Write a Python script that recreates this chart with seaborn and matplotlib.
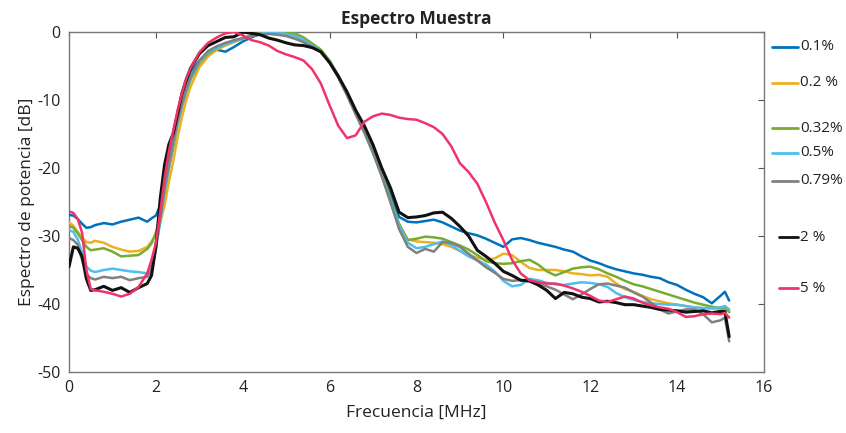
import numpy as np
import pandas as pd
import matplotlib
matplotlib.use("Agg")
import matplotlib.pyplot as plt
from matplotlib.lines import Line2D
import seaborn as sns

# ------------------------
# DATA
# ------------------------
FREQ = [0.0, 0.1, 0.2, 0.3, 0.4, 0.5, 0.6, 0.8, 1.0, 1.2,
        1.4, 1.6, 1.8, 1.9, 2.0, 2.1, 2.2, 2.3, 2.4, 2.5,
        2.6, 2.7, 2.8, 3.0, 3.2, 3.4, 3.6, 3.8, 4.0, 4.2,
        4.4, 4.6, 4.8, 5.0, 5.2, 5.4, 5.6, 5.8, 6.0, 6.2,
        6.4, 6.6, 6.8, 7.0, 7.2, 7.4, 7.6, 7.8, 8.0, 8.2,
        8.4, 8.6, 8.8, 9.0, 9.2, 9.4, 9.6, 9.8, 10.0, 10.2,
        10.4, 10.6, 10.8, 11.0, 11.2, 11.4, 11.6, 11.8, 12.0, 12.2,
        12.4, 12.6, 12.8, 13.0, 13.2, 13.4, 13.6, 13.8, 14.0, 14.2,
        14.4, 14.6, 14.8, 15.0, 15.1, 15.2]

DB_01 = [-26.9, -27.0, -27.5, -28.2, -28.8, -28.7, -28.4, -28.1, -28.3, -27.9,
         -27.6, -27.3, -27.9, -27.4, -27.0, -25.5, -21.5, -18.0, -15.0, -12.0,
         -9.5, -7.5, -5.8, -4.2, -3.2, -2.6, -2.9, -2.2, -1.4, -0.8,
         -0.3, -0.1, 0.0, -0.2, -0.6, -1.3, -2.2, -2.8, -4.4, -6.6,
         -9.0, -11.8, -14.3, -17.2, -20.5, -24.0, -27.2, -27.9, -28.0, -27.8,
         -27.6, -28.0, -28.6, -29.2, -29.6, -29.9, -30.4, -31.0, -31.6, -30.5,
         -30.3, -30.6, -31.0, -31.3, -31.6, -32.0, -32.3, -33.0, -33.6, -34.0,
         -34.5, -34.9, -35.2, -35.5, -35.7, -36.0, -36.2, -36.8, -37.2, -37.9,
         -38.5, -39.0, -39.9, -38.8, -38.2, -39.5]

DB_02 = [-28.0, -28.5, -29.4, -30.2, -30.9, -31.0, -30.7, -31.0, -31.6, -32.0,
         -32.3, -32.2, -31.6, -30.8, -29.8, -28.0, -25.5, -22.0, -19.0, -15.5,
         -12.5, -10.0, -8.0, -5.2, -3.6, -2.6, -2.0, -1.5, -1.0, -0.6,
         -0.3, -0.2, -0.3, -0.5, -0.9, -1.5, -2.2, -3.0, -4.5, -6.7,
         -9.2, -12.0, -14.6, -17.5, -21.0, -25.0, -28.5, -30.5, -30.8, -30.9,
         -31.0, -31.2, -31.6, -32.2, -32.8, -33.2, -33.5, -33.3, -32.6, -32.8,
         -33.8, -34.7, -35.0, -35.0, -35.0, -35.2, -35.5, -35.6, -35.8, -35.7,
         -36.0, -37.0, -37.8, -38.2, -38.8, -39.3, -39.6, -39.9, -40.1, -40.3,
         -40.5, -40.6, -40.7, -40.8, -40.6, -41.0]

DB_032 = [-28.5, -28.8, -29.6, -30.6, -31.6, -32.1, -32.0, -31.8, -32.3, -33.0,
          -32.9, -32.8, -31.9, -31.1, -29.5, -27.0, -23.5, -20.0, -17.0, -13.5,
          -11.0, -8.8, -7.0, -4.6, -3.2, -2.4, -1.8, -1.3, -0.9, -0.5,
          -0.2, 0.0, 0.0, 0.0, -0.2, -0.8, -1.7, -2.6, -4.2, -6.4,
          -9.0, -11.8, -14.5, -17.4, -20.8, -24.5, -28.2, -30.6, -30.4, -30.1,
          -30.2, -30.4, -30.9, -31.4, -32.0, -32.8, -33.7, -34.0, -34.1, -34.0,
          -33.7, -33.5, -34.2, -35.2, -35.8, -35.3, -34.8, -34.6, -34.5, -34.9,
          -35.5, -36.0, -36.6, -37.1, -37.4, -37.8, -38.2, -38.6, -39.0, -39.4,
          -39.8, -40.1, -40.4, -40.6, -40.6, -41.2]

DB_05 = [-29.1, -29.4, -30.5, -32.5, -34.5, -35.1, -35.3, -35.0, -34.8, -35.0,
         -35.2, -35.3, -35.5, -34.3, -31.5, -28.0, -23.5, -20.0, -16.5, -13.5,
         -10.8, -8.6, -6.8, -4.4, -3.0, -2.3, -1.8, -1.4, -1.0, -0.6,
         -0.3, -0.1, -0.1, -0.3, -0.6, -1.2, -2.0, -2.8, -4.4, -6.6,
         -9.2, -12.0, -14.8, -17.8, -21.2, -24.8, -28.5, -31.0, -31.8, -31.6,
         -31.2, -30.8, -31.3, -32.2, -33.0, -33.6, -34.2, -35.2, -36.6, -37.4,
         -37.2, -36.3, -36.5, -36.9, -37.1, -37.2, -37.0, -36.8, -36.9, -37.1,
         -37.5, -38.4, -39.0, -39.4, -39.7, -39.9, -40.0, -40.1, -40.1, -40.3,
         -40.5, -40.6, -40.6, -40.5, -40.3, -40.8]

DB_079 = [-30.3, -30.6, -31.3, -33.5, -35.6, -36.2, -36.4, -36.0, -36.2, -36.0,
          -36.5, -36.2, -36.0, -35.0, -32.0, -27.5, -23.0, -19.5, -16.2, -13.2,
          -10.5, -8.4, -6.6, -4.2, -2.8, -2.1, -1.6, -1.2, -0.9, -0.6,
          -0.4, -0.3, -0.4, -0.6, -1.0, -1.5, -2.2, -3.0, -4.5, -6.7,
          -9.3, -12.1, -14.8, -17.8, -21.2, -25.0, -29.0, -31.6, -32.5, -31.9,
          -32.3, -30.9, -31.0, -31.6, -32.6, -33.6, -34.6, -35.4, -36.3, -36.6,
          -36.5, -36.7, -37.0, -37.4, -37.9, -38.6, -39.3, -38.6, -37.8, -37.1,
          -37.0, -37.3, -37.6, -38.3, -38.9, -39.8, -40.8, -41.4, -41.1, -40.8,
          -40.8, -41.5, -42.7, -42.4, -42.0, -45.5]

DB_2 = [-34.5, -31.6, -31.8, -33.0, -36.3, -38.0, -37.9, -37.4, -38.0, -37.6,
        -38.3, -37.6, -37.0, -35.8, -31.5, -24.5, -19.5, -16.5, -14.9, -12.0,
        -9.0, -7.0, -5.3, -3.2, -2.0, -1.4, -0.8, -0.7, 0.0, -0.2,
        -0.4, -0.9, -1.2, -1.6, -1.9, -2.0, -2.3, -2.9, -4.5, -6.5,
        -8.8, -11.5, -13.8, -16.6, -20.0, -22.9, -26.5, -27.3, -27.2, -27.0,
        -26.6, -26.5, -27.4, -28.6, -30.0, -32.1, -33.0, -34.0, -35.2, -35.8,
        -36.5, -36.6, -37.2, -38.0, -39.2, -38.3, -38.5, -39.0, -39.2, -39.7,
        -39.6, -39.8, -40.1, -40.1, -40.3, -40.5, -40.8, -40.9, -41.0, -41.2,
        -41.1, -41.0, -41.3, -41.1, -41.1, -44.8]

DB_5 = [-26.4, -26.6, -27.5, -29.5, -35.0, -37.8, -38.0, -38.2, -38.5, -38.9,
        -38.5, -37.5, -35.5, -33.5, -31.0, -26.5, -21.5, -17.5, -14.5, -11.5,
        -9.0, -6.8, -5.3, -3.0, -1.6, -0.8, -0.2, 0.0, -0.5, -1.2,
        -1.5, -2.0, -2.8, -3.3, -3.7, -4.2, -5.5, -7.6, -10.8, -13.8,
        -15.6, -15.2, -13.2, -12.4, -12.0, -12.2, -12.6, -12.8, -12.9, -13.4,
        -14.0, -15.0, -16.8, -19.3, -20.6, -22.3, -25.0, -28.0, -30.6, -33.5,
        -35.5, -36.5, -36.8, -37.0, -37.0, -37.3, -37.7, -38.2, -38.8, -39.5,
        -39.7, -39.3, -38.9, -39.2, -39.8, -40.2, -40.5, -40.7, -41.2, -41.9,
        -41.8, -41.5, -41.4, -41.5, -41.3, -42.0]

LABELS = ["0.1%", "0.2 %", "0.32%", "0.5%", "0.79%", "2 %", "5 %"]
COLORS = ["#0072BD", "#EDB120", "#77AC30", "#4DBEEE", "#808080", "#111111", "#F0336A"]

SERIES = [DB_01, DB_02, DB_032, DB_05, DB_079, DB_2, DB_5]

# ------------------------
# STYLE
# ------------------------
sns.set_style("white")
plt.rcParams['font.family'] = ['Open Sans', 'DejaVu Sans']
plt.rcParams['axes.unicode_minus'] = False

fig = plt.figure(figsize=(8.46, 4.33), dpi=100)
ax = fig.add_axes([0.0816, 0.1409, 0.8214, 0.7852])

# draw order: coloured first, then pink, black on top
draw_order = [0, 1, 2, 3, 4, 6, 5]
for i in draw_order:
    sns.lineplot(x=FREQ, y=SERIES[i], ax=ax, color=COLORS[i],
                 lw=2.2 if i == 5 else 1.8, legend=False, zorder=3 + i)

ax.set_xlim(0, 16)
ax.set_ylim(-50, 0)
ax.set_xticks(range(0, 17, 2))
ax.set_yticks(range(-50, 1, 10))
ax.tick_params(direction="in", length=4, width=0.8, colors="#555555",
               labelcolor="#222222", labelsize=11.5, top=True, right=True,
               labeltop=False, labelright=False, pad=6)
for s in ax.spines.values():
    s.set_color("#777777")
    s.set_linewidth(1.0)

ax.set_xlabel("Frecuencia [MHz]", fontsize=12.5, color="#222222", labelpad=6)
ax.set_ylabel("Espectro de potencia [dB]", fontsize=12.5, color="#222222", labelpad=2)
ax.set_title("Espectro Muestra", fontsize=12.5, fontweight="bold", color="#222222", pad=6)

# ------------------------
# LEGEND (outside, uneven spacing like the original)
# ------------------------
legend_y_px = [47, 83, 128, 153, 181, 237, 288]
legend_x0_px = [772, 772, 772, 772, 772, 779, 779]
W, H = 846, 433
for lab, col, ypx, x0 in zip(LABELS, COLORS, legend_y_px, legend_x0_px):
    y = 1 - ypx / H
    fig.add_artist(Line2D([x0 / W, 798 / W], [y, y], color=col, lw=2.0,
                          transform=fig.transFigure))
    fig.text(800 / W, y, lab, fontsize=11, color="#222222", va="center", ha="left")

fig.savefig("out.png", dpi=100)
